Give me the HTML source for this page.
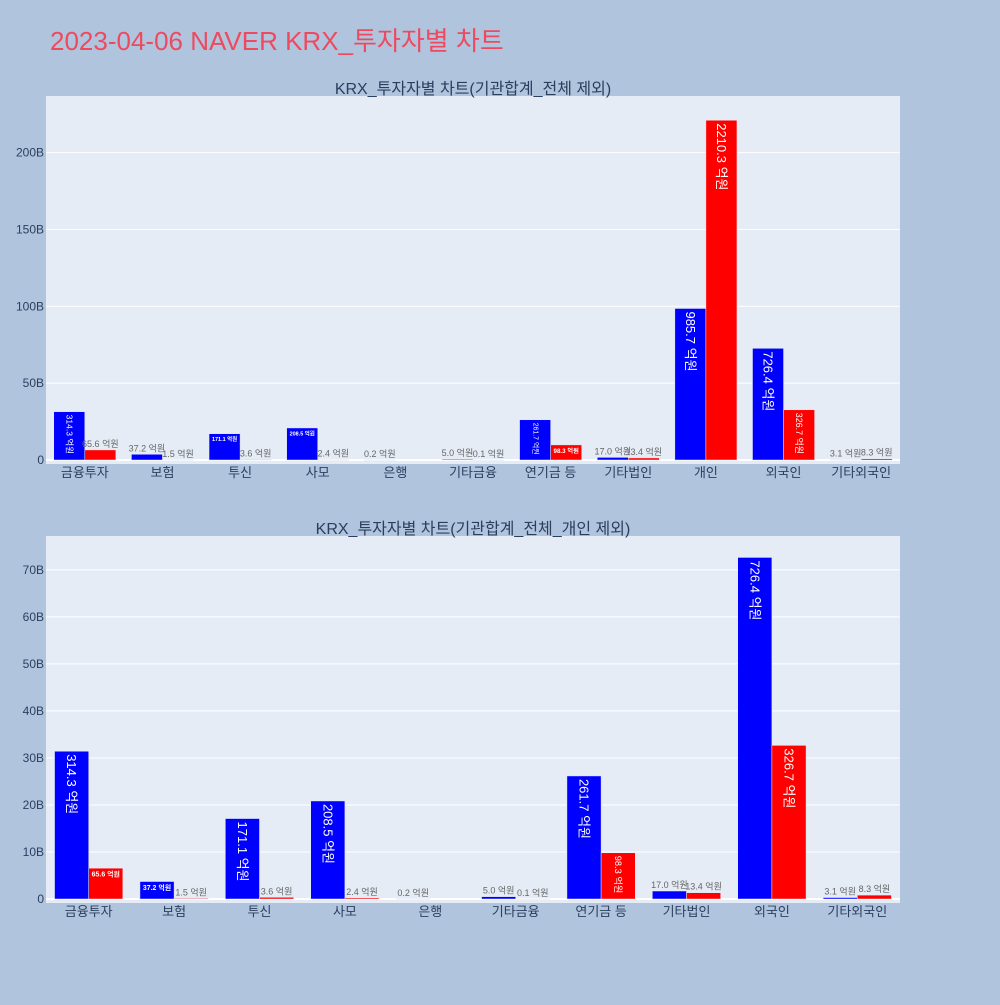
<!DOCTYPE html>
<html><head><meta charset="utf-8">
<style>
body{margin:0;background:#b0c4de;font-family:"Liberation Sans","Noto Sans CJK KR",sans-serif;}
svg text{font-family:"Liberation Sans","Noto Sans CJK KR",sans-serif;}
</style></head>
<body>
<svg id="chart" width="1000" height="1000" xmlns="http://www.w3.org/2000/svg">
<rect width="1000" height="1000" fill="#b0c4de"/>
<text x="50" y="50" font-size="26" fill="#ee4a5f">2023-04-06 NAVER KRX_투자자별 차트</text>
<g id="p1"></g><g id="p2"></g>
</svg>
<script>
const categories1 = ["금융투자","보험","투신","사모","은행","기타금융","연기금 등","기타법인","개인","외국인","기타외국인"];
const buyValues1 = [314.3,37.2,171.1,208.5,0.2,5.0,261.7,17.0,985.7,726.4,3.1];
const sellValues1 = [65.6,1.5,3.6,2.4,null,0.1,98.3,13.4,2210.3,326.7,8.3];
const ticks1 = [0,50,100,150,200];
const categories2 = ["금융투자","보험","투신","사모","은행","기타금융","연기금 등","기타법인","외국인","기타외국인"];
const buyValues2 = [314.3,37.2,171.1,208.5,0.2,5.0,261.7,17.0,726.4,3.1];
const sellValues2 = [65.6,1.5,3.6,2.4,null,0.1,98.3,13.4,326.7,8.3];
const ticks2 = [0,10,20,30,40,50,60,70];
const NS="http://www.w3.org/2000/svg";
function mk(parent,tag,attrs){const e=document.createElementNS(NS,tag);for(const k in attrs)e.setAttribute(k,attrs[k]);parent.appendChild(e);return e;}
function draw(g,title,cats,buy,sell,ticks,top,bottom,ymin,ymax){
  const L=46,R=900;
  const bg=mk(g,'rect',{x:L,y:top,width:R-L,height:bottom-top,fill:'#e5ecf6'});
  
  
  const t=mk(g,'text',{x:473,y:top-2,'font-size':16,fill:'#2a3f5f','text-anchor':'middle'});
  t.textContent=title;
  
  
  const y=v=>bottom-(v/10-ymin)/(ymax-ymin)*(bottom-top);
  ticks.forEach(v=>{
    const yy=y(v*10);
    const gl=mk(g,'line',{x1:L,x2:R,y1:yy,y2:yy,stroke:'#fff','stroke-width':v===0?2:1});
    
    
    const tl=mk(g,'text',{x:L-2,y:yy+4,'font-size':12,fill:'#2a3f5f','text-anchor':'end'});
    tl.textContent=v===0?'0':v+'B';
    
    
  });
  const cw=(R-L)/cats.length, bw=cw*0.4;
  cats.forEach((c,i)=>{
    const cx=L+cw*(i+0.5);
    const xl=mk(g,'text',{x:cx,y:bottom+13,'font-size':13,fill:'#2a3f5f','text-anchor':'middle'});
    xl.textContent=c;
    
    
    [[buy[i],'#0000ff',cx-bw],[sell[i],'#ff0000',cx]].forEach(([v,col,x0])=>{
      if(v==null)return;
      const y0=y(0),y1=y(v),h=y0-y1;
      const b=mk(g,'rect',{x:x0,y:y1,width:bw,height:Math.max(h,0.5),fill:col,stroke:'#e5ecf6','stroke-width':0.5});
      
      
      const txt=v.toFixed(1)+' 억원';
      const fs=13, len=txt.length*0.62*fs;
      const sh=Math.min(1,(bw-4)/len,(h-4)/fs), sr=Math.min(1,(h-6)/len,(bw-4)/fs);
      let lab;
      if(h>=14){
        if(sr>=sh){
          const f=fs*sr;
          lab=mk(g,'text',{x:x0+bw/2,y:y1+3,'font-size':f,fill:'#fff','text-anchor':'start','dominant-baseline':'central',transform:`rotate(90 ${x0+bw/2} ${y1+3})`});
        } else {
          const f=fs*sh;
          lab=mk(g,'text',{x:x0+bw/2,y:y1+3+f*0.8,'font-size':f,fill:'#fff','text-anchor':'middle','font-weight':'bold'});
        }
      } else {
        lab=mk(g,'text',{x:x0+bw/2,y:y1-3,'font-size':9,fill:'#666','text-anchor':'middle'});
      }
      lab.textContent=txt;
      
      
    });
  });
}
draw(document.getElementById('p1'),'KRX_투자자별 차트(기관합계_전체 제외)',categories1,buyValues1,sellValues1,ticks1,96,464,-2.6,236.8);
draw(document.getElementById('p2'),'KRX_투자자별 차트(기관합계_전체_개인 제외)',categories2,buyValues2,sellValues2,ticks2,536,903,-0.85,77.2);
</script>
</body></html>
